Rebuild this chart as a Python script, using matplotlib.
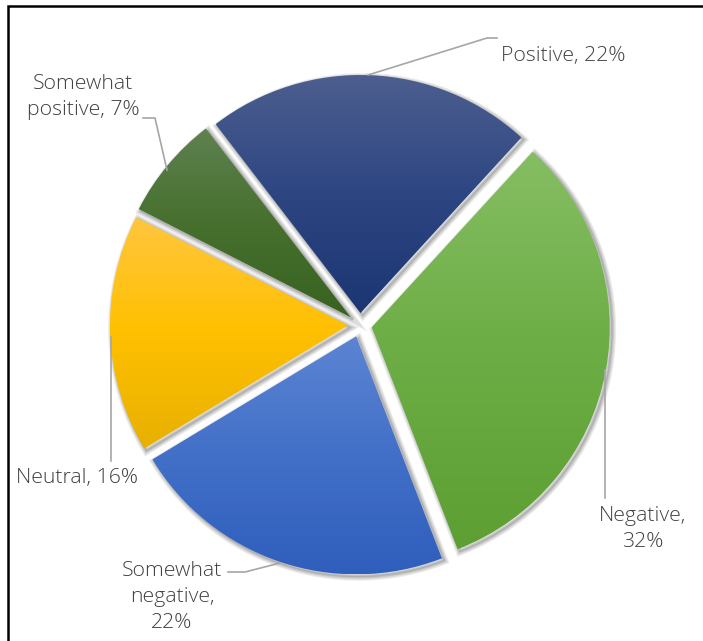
import matplotlib
matplotlib.use('Agg')
import matplotlib.pyplot as plt
import matplotlib.patheffects as pe
from matplotlib.colors import LinearSegmentedColormap
import numpy as np

W, H = 703, 641

labels = ['Positive', 'Negative', 'Somewhat\nnegative', 'Neutral', 'Somewhat\npositive']
values = [22, 32, 22, 16, 7]
# light / base / dark stops for each slice's vertical gradient
grads = [
    ['#4d5e8f', '#2d4682', '#1c3673'],
    ['#86be63', '#6cad45', '#5e9f33'],
    ['#5c84d3', '#4270c8', '#2f5ebc'],
    ['#ffc63f', '#ffc000', '#e8b000'],
    ['#5f8150', '#47702f', '#37621f'],
]

def P(x, y):
    # pixel position (top-left origin) -> data coords
    return x, H - y

fig = plt.figure(figsize=(W / 100, H / 100), dpi=100)
ax = fig.add_axes([0, 0, 1, 1])

cx, cy = P(360, 325)
wedges, _ = ax.pie(values, startangle=127.5, counterclock=False,
                   explode=[12] * len(values), radius=238, center=(cx, cy),
                   wedgeprops=dict(facecolor='none', edgecolor='none'))

# soft drop shadow: stacked translucent strokes shifted down-right
shadow = [pe.Stroke(offset=(1.6, -1.6), linewidth=lw, foreground='#000000', alpha=0.07)
          for lw in (6, 4.5, 3, 1.8, 0.8)]
for w, g in zip(wedges, grads):
    w.set_path_effects(shadow)
    w.set_zorder(1)
    ext = w.get_path().get_extents()
    cmap = LinearSegmentedColormap.from_list('g', g[::-1])
    grad = np.linspace(0, 1, 256).reshape(-1, 1)
    im = ax.imshow(grad, cmap=cmap, origin='lower', aspect='auto',
                   extent=[ext.x0, ext.x1, ext.y0, ext.y1], zorder=2, interpolation='bilinear')
    im.set_clip_path(w)

ax.set_xlim(0, W)
ax.set_ylim(0, H)
ax.set_aspect('equal')
ax.axis('off')

# leader lines
lc = '#a6a6a6'
leaders = [
    [(368, 75), (487, 38), (497, 38)],
    [(605, 370), (605, 498)],
    [(280, 563), (245, 572), (228, 572)],
    [(111, 337), (111, 461)],
    [(167, 170), (155, 118), (143, 118)],
]
for pts in leaders:
    xs, ys = zip(*[P(x, y) for x, y in pts])
    ax.plot(xs, ys, color=lc, lw=1.2, zorder=3)

tc = '#404040'
font = dict(family=['Open Sans', 'DejaVu Sans'], fontsize=15.3, color=tc,
            weight='light', linespacing=1.4)
texts = [
    ('Positive, 22%', (501, 56), 'left'),
    ('Negative,\n32%', (643, 529), 'center'),
    ('Somewhat\nnegative,\n22%', (172, 597), 'center'),
    ('Neutral, 16%', (77, 478), 'center'),
    ('Somewhat\npositive, 7%', (83, 97), 'center'),
]
for s, (x, y), ha in texts:
    ax.text(*P(x, y), s, ha=ha, va='center', multialignment='center', zorder=4, **font)

# frame
ax.plot([8, 8, W], [0, H - 6, H - 6], color='black', lw=1.8, zorder=5,
        solid_joinstyle='miter')

fig.savefig('out.png', dpi=100)
